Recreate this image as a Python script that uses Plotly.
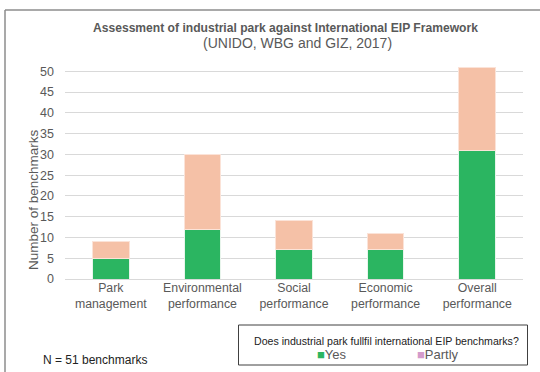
import plotly.graph_objects as go

categories = ["Park<br>management", "Environmental<br>performance", "Social<br>performance",
              "Economic<br>performance", "Overall<br>performance"]
yes_values = [5, 12, 7, 7, 31]
partly_values = [4, 18, 7, 4, 20]
y_ticks = [0, 5, 10, 15, 20, 25, 30, 35, 40, 45, 50]

W, H = 540, 372
L, R, T, B = 65, 523, 63, 279  # plot area in pixels


def px(x):
    return (x - L) / (R - L)


def py(y):
    return (B - y) / (B - T)


GREEN = "#2BB561"
PEACH = "#F5C1A7"
PINK = "#D39BCB"
GRAY = "#595959"
FONT = "Liberation Sans, Arial, sans-serif"

fig = go.Figure()
fig.add_trace(go.Bar(x=categories, y=yes_values, name="Yes", marker_color=GREEN,
                     marker_line=dict(color="#e8f5ec", width=1), showlegend=False))
fig.add_trace(go.Bar(x=categories, y=partly_values, name="Partly", marker_color=PEACH,
                     marker_line=dict(color="#fbe3d8", width=1), showlegend=False))

fig.update_layout(
    width=W, height=H,
    margin=dict(l=L, r=W - R, t=T, b=H - B),
    barmode="stack", bargap=0.6,
    plot_bgcolor="white", paper_bgcolor="white",
    font=dict(family=FONT, color=GRAY, size=12),
    xaxis=dict(showline=False, ticks="", tickfont=dict(size=12.3, color=GRAY)),
    yaxis=dict(range=[0, 52], tickvals=y_ticks, showgrid=True, gridcolor="#d9d9d9",
               gridwidth=1, zeroline=True, zerolinecolor="#d9d9d9", zerolinewidth=1,
               ticks="", tickfont=dict(size=12.5, color=GRAY), ticklabelstandoff=10),
    showlegend=False,
)

ann = [
    dict(text="<b>Assessment of industrial park against International EIP Framework</b>",
         x=px(285), y=py(28), font=dict(size=12.1, color=GRAY)),
    dict(text="(UNIDO, WBG and GIZ, 2017)", x=px(297), y=py(43), font=dict(size=14, color=GRAY)),
    dict(text="Number of benchmarks", x=px(33), y=py(200), textangle=-90, font=dict(size=13.5, color=GRAY)),
    dict(text="Does industrial park fullfil international EIP benchmarks?", x=px(386), y=py(341),
         font=dict(size=10.6, color="#222222")),
    dict(text="<span style='color:%s'>■</span>Yes" % GREEN, x=px(332), y=py(354),
         font=dict(size=13, color=GRAY)),
    dict(text="<span style='color:%s'>■</span>Partly" % PINK, x=px(438), y=py(354),
         font=dict(size=13, color=GRAY)),
    dict(text="N = 51 benchmarks", x=px(95), y=py(360), font=dict(size=12, color="#222222")),
]
for a in ann:
    a.update(xref="paper", yref="paper", showarrow=False, xanchor="center", yanchor="middle")
    fig.add_annotation(**a)

# outer chart frame (left and top edges)
fig.add_shape(type="line", xref="paper", yref="paper", x0=px(5), x1=px(5), y0=py(10), y1=py(372),
              line=dict(color="#8c8c8c", width=1.5))
fig.add_shape(type="line", xref="paper", yref="paper", x0=px(5), x1=px(540), y0=py(10), y1=py(10),
              line=dict(color="#8c8c8c", width=1.5))
# legend box
fig.add_shape(type="rect", xref="paper", yref="paper", x0=px(238.5), x1=px(527.5), y0=py(325),
              y1=py(365), line=dict(color="#404040", width=1), fillcolor="rgba(0,0,0,0)")

fig.write_html("out.html", config={"displayModeBar": False},
               post_script="document.body.style.margin='0';document.body.style.overflow='hidden';")
